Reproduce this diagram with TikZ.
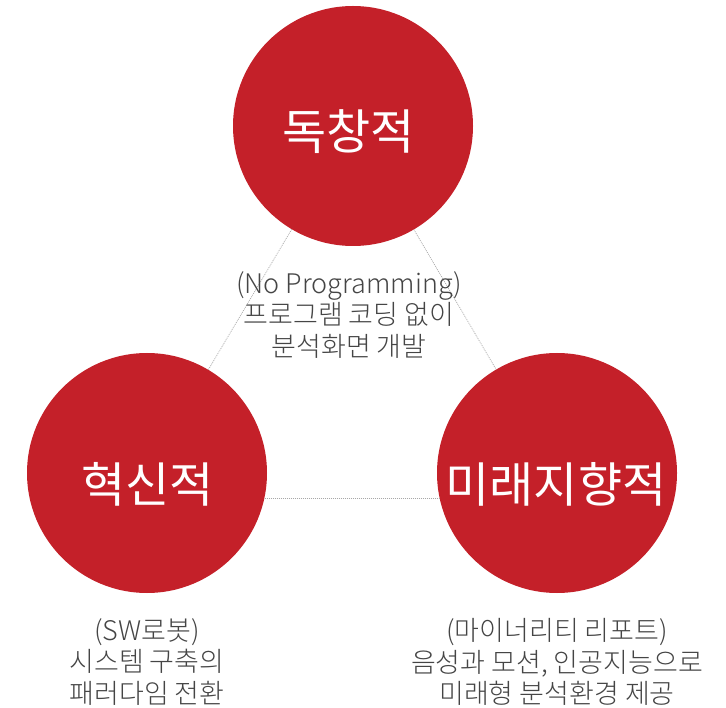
\documentclass[tikz,border=0pt]{standalone}
\usepackage{fontspec}
\newfontfamily\krlight{Noto Sans CJK KR Light}
\newfontfamily\kr{Noto Sans CJK KR}
\definecolor{circred}{HTML}{C42029}
\definecolor{desc}{HTML}{454545}
\definecolor{dotline}{HTML}{A8A8A8}
\tikzset{
  bigcircle/.style={circle, fill=circred, minimum size=240pt, inner sep=0pt},
  circtext/.style={text=white, inner sep=0pt, font=\kr\fontsize{48}{56}\selectfont},
  desctext/.style={align=center, text=desc, inner sep=0pt, font=\krlight\fontsize{27}{31.5}\selectfont},
  linkline/.style={dotline, line width=0.7pt, dash pattern=on 1pt off 1pt}
}
\begin{document}
\begin{tikzpicture}[x=1pt,y=-1pt]
\useasboundingbox (0,0) rectangle (726,708);
\node[bigcircle] (T) at (353,126) {};
\node[bigcircle] (L) at (147,473) {};
\node[bigcircle] (R) at (557,473) {};
\node[circtext] (tT) at (348.5,132) {독창적};
\node[circtext] (tL) at (147.5,484) {혁신적};
\node[circtext] (tR) at (556,484) {미래지향적};
\draw[linkline] (T) -- (L);
\draw[linkline] (T) -- (R);
\draw[linkline] (L.-12) -- (R.192);
\node[desctext] (dT) at (349,315) {(No Programming)\\프로그램 코딩 없이\\분석화면 개발};
\node[desctext] (dL) at (147,662) {(SW로봇)\\시스템 구축의\\패러다임 전환};
\node[desctext] (dR) at (557,662) {(마이너리티 리포트)\\음성과 모션, 인공지능으로\\미래형 분석환경 제공};
\end{tikzpicture}
\end{document}
